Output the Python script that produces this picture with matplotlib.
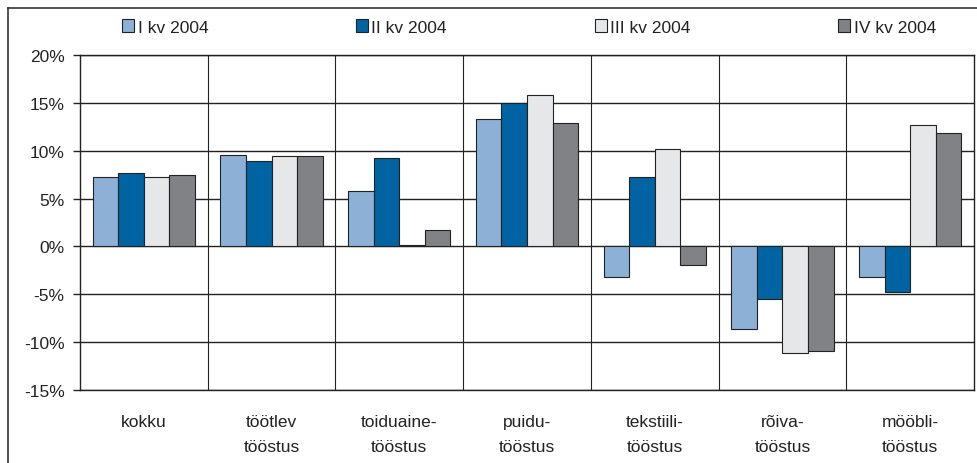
import matplotlib
matplotlib.use("Agg")
import matplotlib.pyplot as plt
from matplotlib.lines import Line2D
from matplotlib.ticker import FuncFormatter
import numpy as np

plt.rcParams['font.family'] = ['Liberation Sans', 'DejaVu Sans']

categories = ["kokku", "töötlev\ntööstus", "toiduaine-\ntööstus", "puidu-\ntööstus",
              "tekstiili-\ntööstus", "rõiva-\ntööstus", "mööbli-\ntööstus"]
series_names = ["I kv 2004", "II kv 2004", "III kv 2004", "IV kv 2004"]
q1 = [7.3, 9.6, 5.8, 13.3, -3.2, -8.6, -3.2]
q2 = [7.7, 8.9, 9.2, 15.0, 7.3, -5.5, -4.8]
q3 = [7.3, 9.4, 0.2, 15.8, 10.2, -11.1, 12.7]
q4 = [7.5, 9.4, 1.7, 12.9, -1.9, -10.9, 11.9]
colors = ["#8db0d7", "#0064a3", "#e6e7e9", "#808285"]

FS = 12.5
W, H = 978, 464
fig = plt.figure(figsize=(W / 100, H / 100), dpi=100)
ax = fig.add_axes([80 / W, 1 - 391 / H, (974 - 80) / W, (391 - 56) / H])

x = np.arange(len(categories))
bw = 0.2
for i, (vals, c, name) in enumerate(zip([q1, q2, q3, q4], colors, series_names)):
    ax.bar(x + (i - 1.5) * bw, vals, bw, color=c, edgecolor="#222222",
           linewidth=0.8, label=name, zorder=3)

ax.set_xlim(-0.5, len(categories) - 0.5)
ax.set_ylim(-15, 20)
ax.set_yticks(np.arange(-15, 21, 5))
ax.yaxis.set_major_formatter(FuncFormatter(lambda v, p: f"{int(round(v))}%"))
ax.yaxis.grid(True, color="#222222", linewidth=1.0, zorder=1)
for b in np.arange(0.5, len(categories) - 0.5, 1):
    ax.axvline(b, color="#222222", linewidth=0.8, zorder=1)
ax.set_axisbelow(True)
for s in ax.spines.values():
    s.set_color("#222222")
    s.set_linewidth(1.0)

ax.set_xticks(x)
ax.set_xticklabels(categories, linespacing=1.9)
ax.tick_params(axis="x", length=0, pad=17, labelsize=FS, colors="#222222")
ax.tick_params(axis="y", length=5, width=1, pad=6, labelsize=FS, colors="#222222")

leg = fig.legend(loc="center", bbox_to_anchor=(529 / W, 1 - 28 / H), ncol=4,
                 frameon=False, fontsize=FS, handlelength=0.7, handleheight=0.7,
                 handletextpad=0.2, columnspacing=8.5, labelcolor="#222222")

# outer frame (top and left)
fig.add_artist(Line2D([8 / W, 1], [1 - 9 / H, 1 - 9 / H], transform=fig.transFigure,
                      color="#333333", linewidth=1.2))
fig.add_artist(Line2D([8 / W, 8 / W], [0, 1 - 9 / H], transform=fig.transFigure,
                      color="#333333", linewidth=1.2))

fig.savefig("out.png", dpi=100)
